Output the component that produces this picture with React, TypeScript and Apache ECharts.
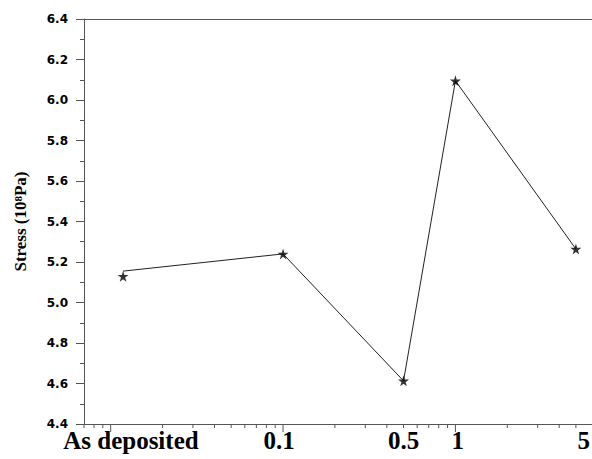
import React, { useEffect, useRef } from "react";
import * as echarts from "echarts";

const xValues = [0.0118, 0.1, 0.5, 1, 5];
const stressLine = [5.155, 5.24, 4.613, 6.095, 5.264];
const stressMarker = [5.13, 5.24, 4.613, 6.095, 5.264];
const xLabelTexts = ["As deposited", "0.1", "0.5", "1", "5"];
const xLabelPositions = [0.0131, 0.095, 0.5, 1.03, 5.55];
const xTickValues = [
  0.007, 0.008, 0.009, 0.01, 0.02, 0.03, 0.04, 0.05, 0.06, 0.07, 0.08, 0.09,
  0.1, 0.2, 0.3, 0.4, 0.5, 0.6, 0.7, 0.8, 0.9, 1, 2, 3, 4, 5,
];
const yMin = 4.4;
const yMax = 6.4;
const xMin = 0.007;
const xMax = 6.2;

const STAR =
  "path://M50,0 L61,35 L98,35 L68,57 L79,91 L50,70 L21,91 L32,57 L2,35 L39,35 Z";

export default function App() {
  const ref = useRef<HTMLDivElement>(null);
  useEffect(() => {
    if (!ref.current) return;
    const chart = echarts.init(ref.current, null, { renderer: "svg" });
    const axisColor = "#555";
    chart.setOption({
      animation: false,
      grid: { left: 84, right: 0, top: 19, bottom: 35 },
      xAxis: [
        {
          type: "log",
          min: xMin,
          max: xMax,
          axisLine: { show: true, lineStyle: { color: axisColor, width: 1 } },
          axisTick: { show: false },
          axisLabel: { show: false },
          splitLine: { show: false },
          minorTick: { show: false },
        },
        {
          type: "log",
          position: "top",
          min: xMin,
          max: xMax,
          axisLine: { show: true, lineStyle: { color: axisColor, width: 1 } },
          axisTick: { show: false },
          axisLabel: { show: false },
          splitLine: { show: false },
        },
      ],
      yAxis: {
        type: "value",
        min: yMin,
        max: yMax,
        interval: 0.2,
        axisLine: { show: true, lineStyle: { color: axisColor, width: 1 } },
        axisTick: { show: true, length: 8, inside: false, lineStyle: { color: axisColor } },
        minorTick: { show: true, splitNumber: 2, length: 4, lineStyle: { color: axisColor } },
        splitLine: { show: false },
        axisLabel: {
          margin: 16,
          color: "#000",
          fontFamily: "DejaVu Sans",
          fontWeight: "bold",
          fontSize: 12,
          formatter: (v: number) => v.toFixed(1),
        },
        name: "Stress (10{sup|8}Pa)",
        nameLocation: "middle",
        nameRotate: 90,
        nameGap: 55,
        nameTextStyle: {
          color: "#000",
          fontFamily: "Liberation Serif",
          fontWeight: "bold",
          fontSize: 17,
          rich: {
            sup: {
              fontFamily: "Liberation Serif",
              fontWeight: "bold",
              fontSize: 11,
              verticalAlign: "top",
              color: "#000",
            },
          },
        },
      },
      series: [
        {
          type: "line",
          data: xValues.map((x, i) => [x, stressLine[i]]),
          symbol: "none",
          lineStyle: { color: "#222", width: 1 },
          z: 2,
        },
        {
          type: "scatter",
          data: xValues.map((x, i) => [x, stressMarker[i]]),
          symbol: STAR,
          symbolSize: 11,
          itemStyle: { color: "#000" },
          z: 3,
        },
        {
          type: "custom",
          data: xTickValues.map((v) => [v, yMin]),
          clip: false,
          renderItem: (params: any, api: any) => {
            const v = api.value(0);
            const p = api.coord([v, yMin]);
            const lg = Math.log10(v);
            const major = Math.abs(lg - Math.round(lg)) < 1e-6;
            const len = major ? 8 : 4;
            return {
              type: "line",
              shape: { x1: p[0], y1: p[1], x2: p[0], y2: p[1] + len },
              style: { stroke: axisColor, lineWidth: 1 },
            };
          },
          z: 1,
        },
        {
          type: "custom",
          data: xLabelPositions.map((v, i) => [v, yMin, i]),
          clip: false,
          renderItem: (params: any, api: any) => {
            const p = api.coord([api.value(0), yMin]);
            const idx = api.value(2);
            return {
              type: "text",
              x: p[0],
              y: p[1] + 4,
              style: {
                text: xLabelTexts[idx],
                fill: "#000",
                font: "bold 25px 'Liberation Serif'",
                textAlign: "center",
                textVerticalAlign: "top",
                verticalAlign: "top",
              },
            };
          },
          z: 1,
        },
      ],
    });
    return () => chart.dispose();
  }, []);
  return (
    <div
      ref={ref}
      style={{ position: "fixed", left: 0, top: 0, width: 592, height: 459, background: "#fff" }}
    />
  );
}
